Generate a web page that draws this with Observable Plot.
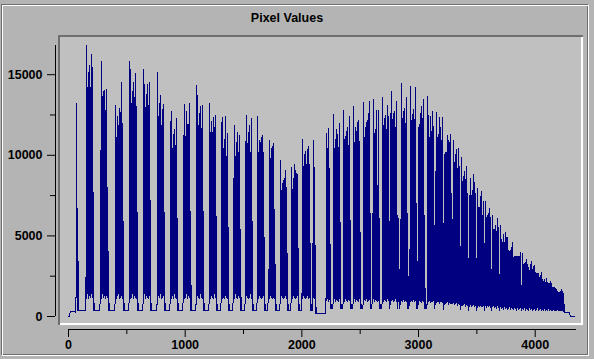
<!DOCTYPE html>
<html><head><meta charset="utf-8">
<script src="https://cdn.jsdelivr.net/npm/d3@7"></script>
<script src="https://cdn.jsdelivr.net/npm/@observablehq/plot@0.6"></script>
<style>
html,body{margin:0;padding:0;background:#b4b4b4;}
#wrap{position:relative;width:594px;height:359px;background:#b4b4b4;overflow:hidden;font-family:"Liberation Sans",Arial,sans-serif;}
#etch{position:absolute;left:1px;top:4px;width:586px;height:350px;border:1px solid;border-color:#6e6e6e #ffffff #ffffff #6e6e6e;box-shadow:inset 1px 1px 0 #ffffff, inset -1px -1px 0 #6e6e6e;}
#title{position:absolute;left:0;top:11px;width:574px;text-align:center;font-weight:bold;font-size:12.5px;line-height:15px;color:#000;}
#chart{position:absolute;left:0;top:0;}
</style></head>
<body><div id="wrap"><div id="etch"></div><div id="title"></div><div id="chart"></div></div>
<script>
const TITLE = "Pixel Values";
const X_MAX = 4354, Y_MAX = 16810;
const STEP = 8.57; // samples per screen column
const xMajor = [0, 1000, 2000, 3000, 4000];
const xMinor = [500, 1500, 2500, 3500];
const yMajor = [0, 5000, 10000, 15000];
const yMinor = [2500, 7500, 12500];

// column maxima / minima, left half (bursts separated by baseline)
const hiA = [
0,60,330,330,330,330,330,1200,13230,6680,360,360,360,360,360,360,360,2440,
16810,14220,15150,15570,14220,16250,15470,1300,
360,360,360,360,360,360,
10300,15820,13670,13960,14020,12780,14080,8020,1300,
360,360,360,360,360,360,
13090,11120,12410,11850,12880,12670,14530,12000,1300,
360,360,360,360,360,
15820,15320,13230,13960,14530,13610,15090,13000,1300,
360,360,360,360,360,
15320,14390,12980,13770,14390,13090,14530,1300,
360,360,360,360,360,360,
15150,12410,13230,13710,11850,12840,13150,1300,
360,360,360,360,360,
12110,12740,10400,11290,11600,10610,12260,1300,
360,360,360,360,360,
11230,13150,11170,12720,11910,11930,13230,3720,
360,360,360,360,360,
14330,13710,11850,12610,13030,11640,13090,1300,
360,360,360,360,360,
13230,11430,12110,11430,12320,11730,12470,1300,
360,360,360,360,
12050,12320,10400,10980,12410,9920,11330,1300,
360,360,360,360,
8560,11850,9920,10810,11430,10160,11200,2230,
360,360,360,360,
10860,12470,10750,11430,11850,10190,12300,1300,
360,360,360,360,
12410,10190,10920,10810,11080,11230,10190,1300,
360,360,360,
2920,10920,9800,10420,10550,10730,6640,1300,
360,360,360,360,
9680,7820,8250,8440,8560,9060,8000,1300,
360,360,360,
9260,7880,8580,9430,9060,8870,8800,1300,
360,360,
1450,10980,9300,10050,10240,9430,10360,10550,9400,1300,
360,
4550,10920,9260,1000,
205,205,205,205,
165,165,165,165,165,
1120
];
const loA = [
0,0,330,330,330,330,330,250,1200,360,360,360,360,360,360,360,360,360,
1100,1400,1100,1300,1200,1400,1200,360,
360,360,360,360,360,360,
1200,1100,1400,1200,1300,1100,1300,1200,360,
360,360,360,360,360,360,
1200,1100,1300,1400,1100,1200,1300,1100,360,
360,360,360,360,360,
1300,1100,1200,1400,1100,1300,1200,1100,360,
360,360,360,360,360,
1200,1400,1100,1300,1200,1100,1300,360,
360,360,360,360,360,360,
1100,1300,1200,1400,1100,1200,1300,360,
360,360,360,360,360,
1200,1100,1300,1100,1400,1200,1100,360,
360,360,360,360,360,
1300,1100,1200,1400,1100,1300,1200,360,
360,360,360,360,360,
1100,1300,1200,1100,1400,1200,1100,360,
360,360,360,360,360,
1200,1100,1300,1200,1100,1400,1200,360,
360,360,360,360,
1300,1100,1200,1100,1300,1200,1100,360,
360,360,360,360,
1200,1100,1400,1200,1100,1300,1200,360,
360,360,360,360,
1100,1300,1200,1100,1200,1400,1100,360,
360,360,360,360,
1200,1100,1300,1200,1100,1200,1300,360,
360,360,360,
1200,1100,1300,1200,1100,1200,1100,360,
360,360,360,360,
1100,1300,1200,1100,1200,1300,1100,360,
360,360,360,
1200,1100,1300,1200,1100,1200,1300,360,
360,360,
360,1100,1300,1200,1100,1200,1300,1100,1200,360,
360,
360,1200,1100,205,
205,205,205,205,
165,165,165,165,165,
165
];
// right half (denser bursts, falling envelope)
const hiB = [
11370,10400,11660,9160,1100,480,480,
12530,10400,10960,11580,11290,10500,11990,1100,480,480,
12780,10960,11170,11490,11740,10610,12410,1100,480,480,
13030,10810,11700,11490,12050,12160,10870,1100,480,480,
13270,11120,11740,12030,12160,12610,13350,1100,480,
6410,13460,11370,11580,12780,8130,12780,1100,480,480,
13560,11850,12260,12470,11580,13090,12410,480,
12570,13960,12200,12610,12740,11740,13350,1100,6060,480,
6000,14430,12260,12720,12880,11950,13610,5020,480,
4140,14270,12160,12530,12820,12200,14180,7030,480,
11740,11900,12610,13030,12300,13440,3430,480,480,
13650,12440,11120,12400,11500,12740,11800,480,
9000,12670,11120,11300,12370,11740,10900,12370,450,
10050,10190,10190,11230,10920,10800,11290,7650,
6000,10920,9570,10050,10340,9160,10400,9300,420,
9840,8390,8700,9010,8500,9300,7610,400,
7500,8540,7500,7820,8810,8330,7600,400,
7920,6780,6780,7440,7750,6270,7150,4550,
7130,6160,6270,6370,6680,6160,1300,
6270,5380,5380,5640,5290,6060,5540,890,
5650,4760,4610,5090,4610,5230,4920,4920,4090,4050,4110,4300,4610,3640,3720,3720,3720,3720,3720,3720,3990,1200,
3930,3230,3310,3370,3520,3230,3060,2850,3230,3430,
2900,3100,3160,2750,2650,2650,2690,2440,2540,2730,
2270,2190,2270,2130,2340,2130,2030,2030,2190,2030,
1820,1820,1780,1720,1650,1570,1510,1510,1570,1650,
1570,1450,
230,230,230,230,230,230,
0,0,0,0,0
];
const loB = [
1000,1100,900,1050,480,480,480,
1000,1100,950,1050,1000,900,1100,480,480,480,
1050,950,1100,1000,900,1050,1000,480,480,480,
1000,1100,950,1050,1000,900,1100,480,480,480,
950,1050,1000,1100,900,1000,1050,480,480,
1000,1100,950,1050,1000,900,1000,480,480,480,
1000,950,1050,1000,900,1100,1000,480,
950,1000,1050,900,1000,1100,950,480,900,480,
900,1000,950,1050,900,1000,950,480,480,
800,950,1000,900,1050,950,1000,480,480,
900,1000,950,850,1000,900,480,480,480,
950,900,1000,850,950,900,1000,480,
900,850,950,900,800,950,900,850,450,
900,800,850,900,750,850,800,800,
800,850,750,800,850,700,800,750,420,
800,700,750,800,650,750,700,400,
700,750,650,700,750,600,700,400,
650,700,600,700,650,600,700,400,
650,550,700,600,650,550,400,
600,650,550,600,500,650,550,350,
600,500,550,450,600,500,550,450,500,600,450,550,500,450,550,500,400,550,450,500,550,350,
500,450,550,400,500,450,400,550,450,500,
400,450,500,400,450,550,400,450,500,400,
450,400,500,350,450,400,500,350,450,400,
350,450,400,350,400,450,350,400,350,400,
350,300,
230,230,230,230,230,230,
0,0,0,0,0
];

const hi = hiA.concat(hiB), lo = loA.concat(loB);
const pts = [];
hi.forEach((h, i) => { pts.push({x: i * STEP, y: lo[i]}); pts.push({x: i * STEP, y: h}); });

document.getElementById("title").textContent = TITLE;
const dark = "#6e6e6e", light = "#ffffff";
const plot = Plot.plot({
  width: 594, height: 359,
  marginLeft: 68, marginRight: 18, marginTop: 45, marginBottom: 43,
  x: {domain: [0, X_MAX], axis: null, label: null},
  y: {domain: [0, Y_MAX], axis: null, label: null},
  style: {background: "transparent", fontFamily: '"Liberation Sans", Arial, sans-serif', fontSize: "12.5px", fontWeight: "bold", color: "black", overflow: "visible"},
  marks: [
    Plot.frame({fill: "#c0c0c0", stroke: "none", insetLeft: -10, insetRight: -7, insetTop: -10, insetBottom: -9}),
    Plot.ruleY([Y_MAX], {dy: -9.5, insetLeft: -10, insetRight: -7, stroke: dark, strokeWidth: 2}),
    Plot.ruleX([0], {dx: -9.5, insetTop: -10, insetBottom: -9, stroke: dark, strokeWidth: 2}),
    Plot.ruleY([0], {dy: 7.5, insetLeft: -8, insetRight: -7, stroke: light, strokeWidth: 2}),
    Plot.ruleX([X_MAX], {dx: 5.5, insetTop: -8, insetBottom: -9, stroke: light, strokeWidth: 2}),
    Plot.line(pts, {x: "x", y: "y", stroke: "#000080", strokeWidth: 1, shapeRendering: "crispEdges"}),
    Plot.ruleX([0], {dx: -13, stroke: "black"}),
    Plot.ruleY([0], {dy: 13, stroke: "black"}),
    Plot.axisX(xMajor, {tickSize: 8, tickPadding: 3, dy: 13, tickFormat: d => String(d), label: null}),
    Plot.axisX(xMinor, {tickSize: 5, dy: 13, tickFormat: () => "", label: null}),
    Plot.axisY(yMajor, {tickSize: 8, tickPadding: 5, dx: -13, tickFormat: d => String(d), label: null}),
    Plot.axisY(yMinor, {tickSize: 5, dx: -13, tickFormat: () => "", label: null})
  ]
});
document.getElementById("chart").appendChild(plot);
</script>
</body></html>
